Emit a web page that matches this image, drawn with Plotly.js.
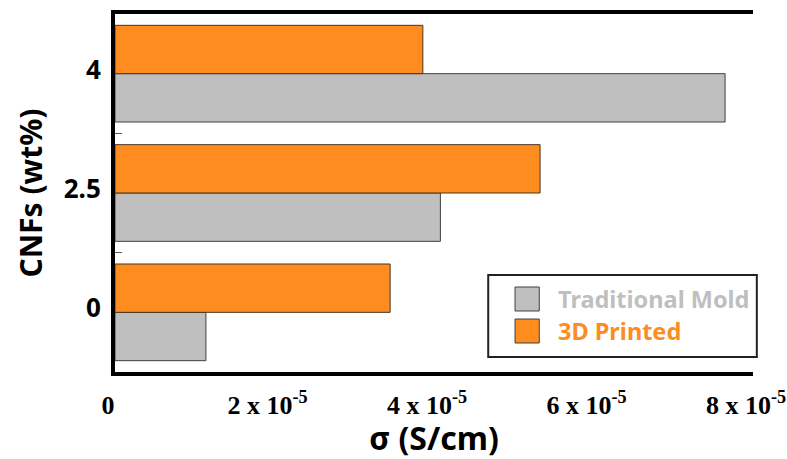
<!DOCTYPE html>
<html>
<head>
<meta charset="utf-8">
<script src="https://cdn.plot.ly/plotly-3.0.1.min.js"></script>
<style>html,body{margin:0;padding:0;background:#fff;}#chart{width:787px;height:459px;}</style>
</head>
<body>
<div id="chart"></div>
<script>
const categories = ['0', '2.5', '4'];
const traditionalMold = [1.14e-5, 4.08e-5, 7.65e-5];
const printed3D = [3.45e-5, 5.33e-5, 3.86e-5];
const xTickVals = [0, 2e-5, 4e-5, 6e-5, 8e-5];
const xTickText = ['0', '2 x 10<sup>-5</sup>', '4 x 10<sup>-5</sup>', '6 x 10<sup>-5</sup>', '8 x 10<sup>-5</sup>'];
const seriesNames = ['Traditional Mold', '3D Printed'];
const seriesColors = ['#BFBFBF', '#FF8C1E'];

const traces = [
  {type: 'bar', orientation: 'h', y: categories, x: traditionalMold, name: seriesNames[0],
   marker: {color: seriesColors[0], line: {color: '#404040', width: 1}}, showlegend: false},
  {type: 'bar', orientation: 'h', y: categories, x: printed3D, name: seriesNames[1],
   marker: {color: seriesColors[1], line: {color: '#4a3320', width: 1}}, showlegend: false}
];

const sansBold = '"Noto Sans", "Open Sans", sans-serif';
const layout = {
  width: 787, height: 459,
  margin: {l: 115, r: 34, t: 14, b: 87},
  paper_bgcolor: '#fff', plot_bgcolor: '#fff',
  barmode: 'group', bargap: 0.19, bargroupgap: 0,
  font: {family: sansBold, color: '#000'},
  xaxis: {
    range: [0, 8e-5], tickvals: xTickVals, ticktext: xTickText,
    showgrid: false, zeroline: false, showline: true, mirror: true,
    linecolor: '#000', linewidth: 4, ticks: '', automargin: false,
    ticklabelshift: -7, ticklabelstandoff: 7,
    tickfont: {family: '"Liberation Serif", "Times New Roman", serif', size: 26, color: '#000', weight: 'bold'},
    title: {text: '<b>σ (S/cm)</b>', font: {family: sansBold, size: 32, color: '#000'}}
  },
  yaxis: {
    type: 'category', categoryorder: 'array', categoryarray: categories,
    showgrid: false, zeroline: false, showline: true, mirror: false,
    linecolor: '#000', linewidth: 4, automargin: false,
    ticks: 'inside', tickson: 'boundaries', ticklen: 7, tickwidth: 1, tickcolor: '#555',
    tickfont: {family: sansBold, size: 26, color: '#000', weight: 'bold'},
    ticklabelstandoff: 5, ticklabelshift: -4,
    title: {text: '<b>CNFs (wt%)</b>', font: {family: sansBold, size: 30, color: '#000'}}
  },
  shapes: [
    {type: 'rect', xref: 'paper', yref: 'paper', x0: 0.585, x1: 1.006, y0: 0.042, y1: 0.271,
     line: {color: '#222', width: 2}, fillcolor: '#fff', layer: 'above'},
    {type: 'rect', xref: 'paper', yref: 'paper', x0: 0.627, x1: 0.665, y0: 0.1704, y1: 0.2374,
     line: {color: '#404040', width: 1}, fillcolor: seriesColors[0], layer: 'above'},
    {type: 'rect', xref: 'paper', yref: 'paper', x0: 0.627, x1: 0.665, y0: 0.081, y1: 0.148,
     line: {color: '#404040', width: 1}, fillcolor: seriesColors[1], layer: 'above'}
  ],
  annotations: [
    {xref: 'paper', yref: 'paper', x: 0.692, y: 0.204, xanchor: 'left', yanchor: 'middle', showarrow: false,
     text: '<b>' + seriesNames[0] + '</b>', font: {family: sansBold, size: 23.5, color: seriesColors[0]}},
    {xref: 'paper', yref: 'paper', x: 0.692, y: 0.1145, xanchor: 'left', yanchor: 'middle', showarrow: false,
     text: '<b>' + seriesNames[1] + '</b>', font: {family: sansBold, size: 23.5, color: seriesColors[1]}}
  ]
};

Plotly.newPlot('chart', traces, layout, {displayModeBar: false, staticPlot: true});
</script>
</body>
</html>
